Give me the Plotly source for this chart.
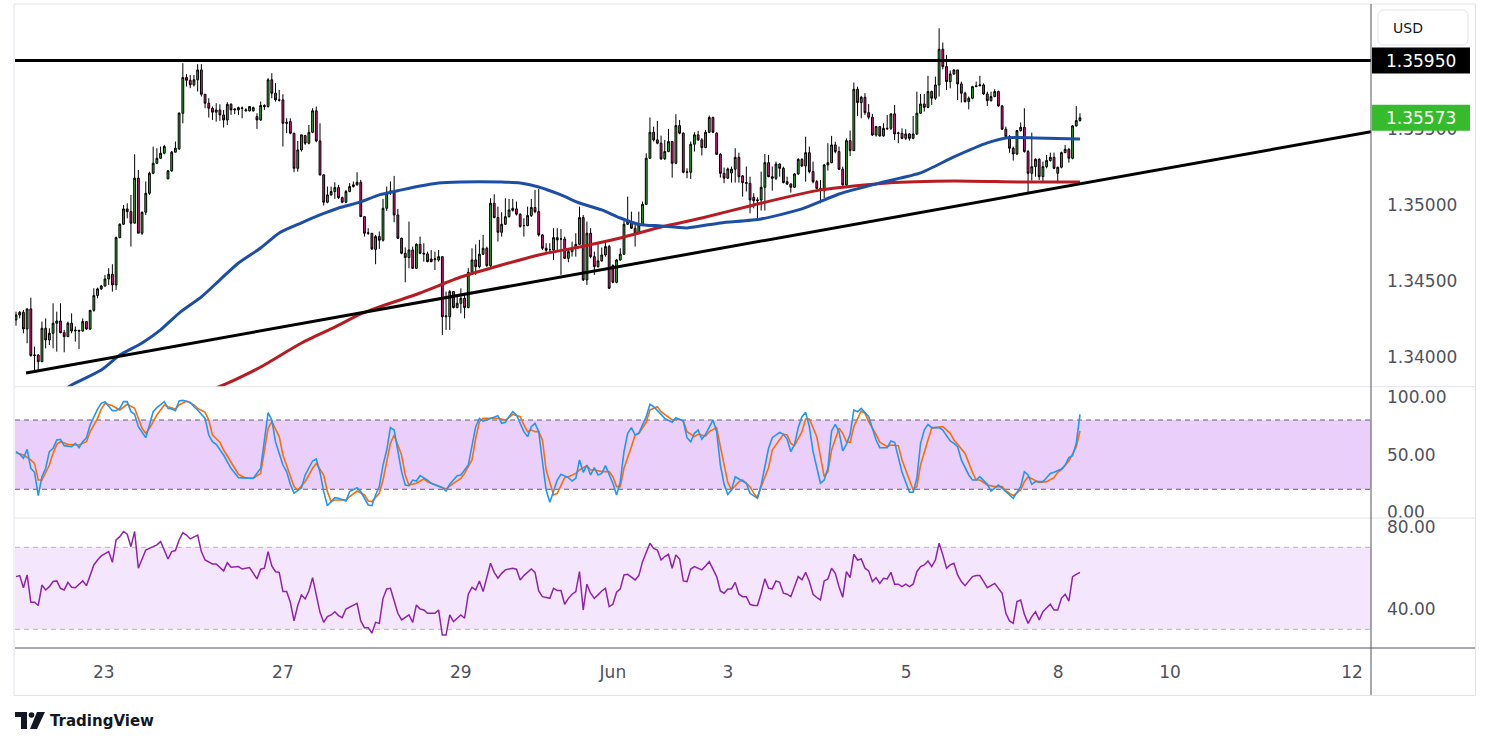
import plotly.graph_objects as go

# ---------------- data (hourly candles) ----------------
opens = [
1.34244, 1.34276, 1.34294, 1.34184, 1.34316, 1.34009, 1.34013, 1.33969, 1.34189, 1.34112,
1.34156, 1.34222, 1.34237, 1.34160, 1.34134, 1.34222, 1.34171, 1.34176, 1.34171, 1.34233,
1.34184, 1.34307, 1.34404, 1.34448, 1.34467, 1.34513, 1.34544, 1.34474, 1.34785, 1.34873,
1.34974, 1.34956, 1.34880, 1.35176, 1.34814, 1.34952, 1.35077, 1.35208, 1.35274, 1.35307,
1.35340, 1.35171, 1.35224, 1.35347, 1.35369, 1.35603, 1.35838, 1.35820, 1.35790, 1.35823,
1.35888, 1.35728, 1.35669, 1.35636, 1.35610, 1.35625, 1.35592, 1.35559, 1.35662, 1.35625,
1.35625, 1.35638, 1.35619, 1.35619, 1.35619, 1.35581, 1.35559, 1.35654, 1.35647, 1.35823,
1.35735, 1.35691, 1.35691, 1.35544, 1.35548, 1.35472, 1.35241, 1.35362, 1.35456, 1.35406,
1.35478, 1.35619, 1.35421, 1.35198, 1.35018, 1.35066, 1.35088, 1.35114, 1.35048, 1.35018,
1.35088, 1.35121, 1.35132, 1.35149, 1.34923, 1.34814, 1.34814, 1.34708, 1.34792, 1.34768,
1.34978, 1.35083, 1.35092, 1.34934, 1.34781, 1.34682, 1.34654, 1.34704, 1.34583, 1.34741,
1.34682, 1.34678, 1.34645, 1.34640, 1.34638, 1.34660, 1.34265, 1.34265, 1.34430, 1.34325,
1.34353, 1.34386, 1.34325, 1.34557, 1.34638, 1.34594, 1.34676, 1.34715, 1.34601, 1.35011,
1.34917, 1.34820, 1.34873, 1.34923, 1.34978, 1.34974, 1.34939, 1.34864, 1.34864, 1.34930,
1.34983, 1.34956, 1.34803, 1.34715, 1.34706, 1.34704, 1.34785, 1.34776, 1.34776, 1.34649,
1.34693, 1.34715, 1.34741, 1.34917, 1.34507, 1.34814, 1.34660, 1.34594, 1.34632, 1.34671,
1.34726, 1.34601, 1.34491, 1.34638, 1.34676, 1.34873, 1.34891, 1.34847, 1.34814, 1.34869,
1.35004, 1.35307, 1.35478, 1.35428, 1.35406, 1.35303, 1.35351, 1.35417, 1.35274, 1.35522,
1.35472, 1.35215, 1.35215, 1.35399, 1.35461, 1.35428, 1.35377, 1.35478, 1.35575, 1.35472,
1.35333, 1.35208, 1.35176, 1.35210, 1.35235, 1.35313, 1.35191, 1.35147, 1.35142, 1.35050,
1.35028, 1.35033, 1.35116, 1.35278, 1.35186, 1.35175, 1.35269, 1.35241, 1.35153, 1.35138,
1.35116, 1.35204, 1.35300, 1.35256, 1.35344, 1.35219, 1.35153, 1.35109, 1.35094, 1.35263,
1.35278, 1.35395, 1.35351, 1.35235, 1.35132, 1.35423, 1.35357, 1.35761, 1.35673, 1.35708,
1.35607, 1.35577, 1.35460, 1.35515, 1.35454, 1.35504, 1.35504, 1.35599, 1.35471, 1.35471,
1.35438, 1.35467, 1.35438, 1.35467, 1.35603, 1.35664, 1.35642, 1.35746, 1.35702, 1.35789,
1.36024, 1.35910, 1.35811, 1.35862, 1.35888, 1.35796, 1.35735, 1.35680, 1.35702, 1.35778,
1.35783, 1.35789, 1.35730, 1.35686, 1.35713, 1.35746, 1.35651, 1.35498, 1.35450, 1.35373,
1.35335, 1.35489, 1.35511, 1.35351, 1.35208, 1.35252, 1.35300, 1.35186, 1.35252, 1.35292,
1.35313, 1.35208, 1.35248, 1.35344, 1.35366, 1.35307, 1.35520, 1.35555]

highs = [
1.34298, 1.34303, 1.34309, 1.34320, 1.34390, 1.34068, 1.34018, 1.34233, 1.34254, 1.34189,
1.34353, 1.34298, 1.34353, 1.34178, 1.34233, 1.34287, 1.34200, 1.34178, 1.34254, 1.34237,
1.34309, 1.34452, 1.34456, 1.34474, 1.34540, 1.34584, 1.34610, 1.34792, 1.34879, 1.35000,
1.35011, 1.35066, 1.35333, 1.35230, 1.34956, 1.35154, 1.35219, 1.35384, 1.35373, 1.35384,
1.35395, 1.35230, 1.35355, 1.35417, 1.35610, 1.35932, 1.35860, 1.35855, 1.35855, 1.35926,
1.35926, 1.35728, 1.35702, 1.35647, 1.35669, 1.35662, 1.35625, 1.35676, 1.35669, 1.35636,
1.35647, 1.35647, 1.35636, 1.35647, 1.35647, 1.35603, 1.35680, 1.35662, 1.35834, 1.35866,
1.35801, 1.35757, 1.35728, 1.35570, 1.35570, 1.35472, 1.35421, 1.35461, 1.35461, 1.35526,
1.35636, 1.35647, 1.35537, 1.35202, 1.35121, 1.35121, 1.35149, 1.35132, 1.35055, 1.35099,
1.35143, 1.35154, 1.35215, 1.35165, 1.34923, 1.34847, 1.34814, 1.34803, 1.34825, 1.35040,
1.35121, 1.35154, 1.35191, 1.34974, 1.34785, 1.34720, 1.34891, 1.34726, 1.34748, 1.34792,
1.34748, 1.34693, 1.34704, 1.34693, 1.34704, 1.34660, 1.34430, 1.34441, 1.34434, 1.34408,
1.34452, 1.34408, 1.34584, 1.34715, 1.34741, 1.34770, 1.34803, 1.34726, 1.35044, 1.35070,
1.34989, 1.34952, 1.35044, 1.35040, 1.35040, 1.35022, 1.34945, 1.34912, 1.34989, 1.35040,
1.35099, 1.35105, 1.34807, 1.34748, 1.34748, 1.34847, 1.34847, 1.34842, 1.34792, 1.34715,
1.34759, 1.34814, 1.34989, 1.34934, 1.34891, 1.34847, 1.34693, 1.34755, 1.34720, 1.34755,
1.34737, 1.34610, 1.34645, 1.34715, 1.34899, 1.35055, 1.34956, 1.34869, 1.34956, 1.35022,
1.35340, 1.35575, 1.35515, 1.35553, 1.35456, 1.35428, 1.35500, 1.35421, 1.35597, 1.35559,
1.35478, 1.35241, 1.35417, 1.35478, 1.35487, 1.35439, 1.35494, 1.35588, 1.35581, 1.35478,
1.35340, 1.35246, 1.35246, 1.35252, 1.35373, 1.35344, 1.35197, 1.35253, 1.35186, 1.35077,
1.35050, 1.35219, 1.35335, 1.35329, 1.35253, 1.35285, 1.35274, 1.35252, 1.35186, 1.35142,
1.35208, 1.35307, 1.35307, 1.35449, 1.35384, 1.35285, 1.35164, 1.35164, 1.35270, 1.35406,
1.35454, 1.35416, 1.35384, 1.35252, 1.35438, 1.35489, 1.35805, 1.35778, 1.35717, 1.35735,
1.35664, 1.35599, 1.35520, 1.35520, 1.35537, 1.35592, 1.35599, 1.35658, 1.35482, 1.35504,
1.35498, 1.35471, 1.35585, 1.35745, 1.35730, 1.35730, 1.35849, 1.35752, 1.35844, 1.36162,
1.36068, 1.35987, 1.35884, 1.35892, 1.35888, 1.35811, 1.35745, 1.35713, 1.35783, 1.35811,
1.35849, 1.35800, 1.35745, 1.35745, 1.35761, 1.35752, 1.35658, 1.35515, 1.35460, 1.35384,
1.35493, 1.35542, 1.35636, 1.35362, 1.35476, 1.35307, 1.35307, 1.35285, 1.35329, 1.35344,
1.35344, 1.35252, 1.35351, 1.35395, 1.35373, 1.35526, 1.35651, 1.35603]

lows = [
1.34206, 1.34254, 1.34156, 1.34090, 1.34002, 1.33908, 1.33908, 1.33969, 1.34057, 1.34079,
1.34057, 1.34035, 1.34156, 1.34031, 1.34134, 1.34156, 1.34101, 1.34053, 1.34167, 1.34178,
1.34178, 1.34298, 1.34386, 1.34441, 1.34463, 1.34474, 1.34430, 1.34441, 1.34781, 1.34869,
1.34912, 1.34726, 1.34880, 1.34814, 1.34803, 1.34934, 1.35066, 1.35202, 1.35268, 1.35303,
1.35333, 1.35171, 1.35219, 1.35347, 1.35362, 1.35537, 1.35779, 1.35768, 1.35779, 1.35746,
1.35713, 1.35636, 1.35575, 1.35559, 1.35548, 1.35553, 1.35509, 1.35526, 1.35592, 1.35597,
1.35592, 1.35570, 1.35614, 1.35614, 1.35614, 1.35500, 1.35553, 1.35625, 1.35640, 1.35702,
1.35680, 1.35680, 1.35384, 1.35472, 1.35465, 1.35215, 1.35219, 1.35351, 1.35395, 1.35399,
1.35472, 1.35412, 1.35193, 1.34996, 1.35011, 1.35062, 1.35040, 1.35040, 1.35011, 1.35011,
1.35084, 1.35114, 1.35127, 1.34923, 1.34792, 1.34803, 1.34704, 1.34610, 1.34711, 1.34759,
1.34961, 1.35066, 1.34886, 1.34776, 1.34676, 1.34491, 1.34583, 1.34579, 1.34579, 1.34676,
1.34627, 1.34623, 1.34623, 1.34572, 1.34627, 1.34145, 1.34178, 1.34178, 1.34320, 1.34320,
1.34287, 1.34254, 1.34320, 1.34551, 1.34540, 1.34583, 1.34671, 1.34592, 1.34592, 1.34912,
1.34759, 1.34792, 1.34869, 1.34917, 1.34956, 1.34930, 1.34851, 1.34792, 1.34860, 1.34921,
1.34945, 1.34792, 1.34704, 1.34676, 1.34689, 1.34638, 1.34693, 1.34540, 1.34645, 1.34623,
1.34660, 1.34660, 1.34737, 1.34500, 1.34474, 1.34649, 1.34540, 1.34588, 1.34627, 1.34660,
1.34447, 1.34485, 1.34485, 1.34632, 1.34671, 1.34869, 1.34842, 1.34726, 1.34807, 1.34864,
1.35000, 1.35303, 1.35417, 1.35399, 1.35296, 1.35296, 1.35347, 1.35180, 1.35268, 1.35465,
1.35208, 1.35176, 1.35171, 1.35351, 1.35421, 1.35325, 1.35373, 1.35472, 1.35472, 1.35329,
1.35180, 1.35143, 1.35171, 1.35147, 1.35147, 1.35147, 1.35055, 1.35088, 1.34945, 1.34978,
1.34912, 1.34963, 1.34963, 1.35182, 1.35094, 1.35164, 1.35186, 1.35142, 1.35131, 1.35081,
1.35114, 1.35197, 1.35252, 1.35153, 1.35208, 1.35142, 1.35103, 1.35011, 1.35044, 1.35226,
1.35274, 1.35340, 1.35230, 1.35125, 1.35110, 1.35321, 1.35357, 1.35585, 1.35570, 1.35592,
1.35563, 1.35454, 1.35449, 1.35449, 1.35449, 1.35493, 1.35493, 1.35427, 1.35406, 1.35432,
1.35427, 1.35423, 1.35432, 1.35460, 1.35599, 1.35614, 1.35636, 1.35658, 1.35691, 1.35713,
1.35892, 1.35756, 1.35767, 1.35855, 1.35691, 1.35673, 1.35673, 1.35629, 1.35695, 1.35778,
1.35783, 1.35724, 1.35651, 1.35680, 1.35708, 1.35647, 1.35493, 1.35445, 1.35344, 1.35292,
1.35329, 1.35482, 1.35344, 1.35081, 1.35160, 1.35186, 1.35164, 1.35153, 1.35241, 1.35285,
1.35235, 1.35142, 1.35241, 1.35340, 1.35278, 1.35300, 1.35515, 1.35548]

closes = [
1.34276, 1.34294, 1.34184, 1.34316, 1.34009, 1.34013, 1.33969, 1.34189, 1.34112, 1.34156,
1.34222, 1.34237, 1.34160, 1.34134, 1.34222, 1.34171, 1.34176, 1.34171, 1.34233, 1.34184,
1.34307, 1.34404, 1.34448, 1.34467, 1.34513, 1.34544, 1.34474, 1.34785, 1.34873, 1.34974,
1.34956, 1.34880, 1.35176, 1.34814, 1.34952, 1.35077, 1.35208, 1.35274, 1.35307, 1.35340,
1.35384, 1.35224, 1.35347, 1.35373, 1.35603, 1.35838, 1.35820, 1.35790, 1.35823, 1.35888,
1.35728, 1.35669, 1.35636, 1.35610, 1.35625, 1.35592, 1.35559, 1.35662, 1.35625, 1.35630,
1.35640, 1.35636, 1.35625, 1.35647, 1.35640, 1.35559, 1.35654, 1.35647, 1.35823, 1.35735,
1.35691, 1.35689, 1.35537, 1.35537, 1.35472, 1.35241, 1.35362, 1.35461, 1.35406, 1.35478,
1.35619, 1.35421, 1.35198, 1.35018, 1.35066, 1.35088, 1.35114, 1.35048, 1.35018, 1.35088,
1.35121, 1.35132, 1.35149, 1.34923, 1.34814, 1.34816, 1.34711, 1.34792, 1.34768, 1.34978,
1.35083, 1.35092, 1.34934, 1.34781, 1.34682, 1.34654, 1.34704, 1.34583, 1.34741, 1.34682,
1.34678, 1.34627, 1.34627, 1.34645, 1.34660, 1.34265, 1.34270, 1.34430, 1.34325, 1.34353,
1.34386, 1.34325, 1.34557, 1.34638, 1.34594, 1.34676, 1.34715, 1.34601, 1.35011, 1.34917,
1.34820, 1.34873, 1.34923, 1.34967, 1.34965, 1.34939, 1.34858, 1.34864, 1.34930, 1.34983,
1.34956, 1.34803, 1.34715, 1.34702, 1.34706, 1.34785, 1.34770, 1.34776, 1.34649, 1.34693,
1.34715, 1.34741, 1.34917, 1.34507, 1.34814, 1.34660, 1.34594, 1.34632, 1.34671, 1.34726,
1.34452, 1.34491, 1.34638, 1.34676, 1.34873, 1.34891, 1.34847, 1.34814, 1.34869, 1.35004,
1.35307, 1.35478, 1.35428, 1.35406, 1.35303, 1.35351, 1.35417, 1.35274, 1.35522, 1.35472,
1.35215, 1.35217, 1.35399, 1.35461, 1.35428, 1.35377, 1.35478, 1.35575, 1.35478, 1.35333,
1.35208, 1.35176, 1.35237, 1.35235, 1.35313, 1.35186, 1.35147, 1.35142, 1.35033, 1.35028,
1.35033, 1.35116, 1.35278, 1.35186, 1.35175, 1.35269, 1.35241, 1.35147, 1.35138, 1.35116,
1.35204, 1.35300, 1.35256, 1.35344, 1.35219, 1.35153, 1.35109, 1.35094, 1.35263, 1.35278,
1.35395, 1.35351, 1.35235, 1.35132, 1.35423, 1.35357, 1.35761, 1.35673, 1.35708, 1.35607,
1.35577, 1.35460, 1.35515, 1.35454, 1.35504, 1.35502, 1.35599, 1.35467, 1.35473, 1.35438,
1.35467, 1.35438, 1.35467, 1.35603, 1.35664, 1.35642, 1.35746, 1.35702, 1.35789, 1.36024,
1.35910, 1.35811, 1.35862, 1.35888, 1.35796, 1.35735, 1.35680, 1.35702, 1.35778, 1.35783,
1.35789, 1.35730, 1.35686, 1.35713, 1.35746, 1.35651, 1.35498, 1.35450, 1.35373, 1.35335,
1.35489, 1.35511, 1.35351, 1.35208, 1.35252, 1.35300, 1.35186, 1.35252, 1.35292, 1.35313,
1.35241, 1.35248, 1.35344, 1.35366, 1.35307, 1.35520, 1.35555, 1.35573]

# moving averages (bar index, price)
ema_fast = [(13, 1.33784), (15, 1.33816), (23, 1.33914), (28, 1.34013), (34, 1.34092), (39, 1.34178),
            (44, 1.34289), (50, 1.34395), (55, 1.34507), (60, 1.34618), (66, 1.34717), (71, 1.34816),
            (77, 1.34882), (82, 1.34934), (87, 1.34980), (93, 1.35020), (98, 1.35066), (104, 1.35099),
            (109, 1.35125), (114, 1.35145), (120, 1.35151), (125, 1.35152), (131, 1.35151), (136, 1.35145),
            (141, 1.35118), (147, 1.35066), (152, 1.35013), (158, 1.34967), (163, 1.34914), (168, 1.34872),
            (174, 1.34862), (181, 1.34849), (190, 1.34882), (201, 1.34908), (212, 1.34974), (222, 1.35072),
            (233, 1.35145), (244, 1.35211), (253, 1.35316), (262, 1.35408), (267, 1.35441), (275, 1.35441),
            (287, 1.35434)]
ema_slow = [(53, 1.33786), (56, 1.33816), (66, 1.33934), (77, 1.34092), (86, 1.34197), (93, 1.34283),
            (98, 1.34329), (109, 1.34421), (120, 1.34526), (131, 1.34605), (141, 1.34671), (152, 1.34724),
            (163, 1.34783), (174, 1.34855), (185, 1.34914), (199, 1.35000), (217, 1.35099), (235, 1.35145),
            (253, 1.35158), (271, 1.35151), (287, 1.35151)]

# Stoch RSI %K / %D and RSI (bar index, value)
stoch_k = [(0,52.6),(1,50.3),(2,46.8),(3,54.6),(4,38.2),(5,34.7),(6,14.5),(7,30.9),(8,38.2),(9,52.6),(10,55.5),(11,62.7),(12,63.3),(13,57.8),(15,56.9),(16,59.8),(17,56.0),(18,61.2),(19,64.7),(20,75.7),(22,89.5),(23,94.4),(24,95.9),(26,88.1),(27,88.1),(28,90.1),(29,95.9),(30,95.9),(31,87.2),(32,84.9),(33,74.2),(34,69.0),(35,64.7),(36,75.7),(37,87.2),(38,90.7),(40,95.9),(41,90.1),(42,89.5),(43,88.1),(44,96.4),(45,97.0),(47,95.3),(48,91.5),(49,88.7),(51,81.4),(52,67.0),(53,61.2),(54,58.9),(56,49.7),(58,38.2),(60,30.1),(62,29.5),(64,29.5),(66,38.2),(67,64.1),(68,86.3),(69,80.0),(70,61.2),(72,41.0),(73,35.3),(74,24.3),(75,16.5),(77,21.4),(78,32.4),(80,44.5),(81,46.2),(82,34.7),(83,18.0),(84,5.8),(86,12.7),(87,12.2),(89,9.9),(90,18.0),(92,21.4),(93,18.0),(94,12.2),(95,6.4),(96,5.8),(97,15.1),(98,22.3),(99,41.0),(100,54.0),(101,73.4),(102,71.3),(103,52.6),(104,35.3),(105,23.7),(106,23.1),(107,28.0),(108,27.2),(109,31.8),(111,28.0),(112,25.2),(113,23.7),(115,21.4),(116,18.5),(117,24.3),(119,31.8),(120,32.4),(122,41.0),(123,56.9),(124,74.2),(125,81.4),(126,79.1),(128,81.4),(130,83.7),(131,77.1),(132,78.0),(133,82.9),(134,87.2),(135,84.3),(137,69.9),(138,65.6),(139,74.2),(140,77.1),(141,69.9),(142,43.9),(143,19.4),(144,8.7),(145,19.4),(146,28.0),(147,33.0),(148,31.8),(149,30.1),(150,27.2),(151,29.5),(152,45.4),(153,34.7),(154,41.0),(155,32.4),(156,38.7),(157,32.4),(158,33.8),(159,40.5),(161,25.2),(162,15.1),(163,26.6),(164,52.6),(165,68.5),(166,73.4),(167,67.0),(168,68.5),(170,82.9),(171,93.6),(172,91.5),(174,84.9),(175,81.4),(177,78.0),(178,82.0),(180,79.1),(181,64.7),(182,61.2),(183,68.5),(184,71.3),(185,63.5),(186,67.6),(188,80.0),(189,69.9),(190,41.0),(191,24.3),(192,15.6),(193,19.4),(194,30.9),(195,28.9),(197,25.2),(198,16.5),(200,12.2),(201,23.7),(203,55.5),(204,64.7),(206,69.3),(207,67.6),(208,63.5),(209,52.6),(210,58.9),(211,73.4),(212,82.9),(213,86.6),(214,74.2),(215,52.6),(217,25.2),(218,28.0),(219,38.2),(220,70.5),(221,76.2),(222,69.9),(223,53.2),(224,58.9),(225,67.6),(226,88.7),(227,87.2),(228,90.1),(230,82.9),(231,72.8),(232,62.7),(233,56.0),(235,56.0),(236,61.8),(237,60.7),(239,34.7),(240,26.6),(241,17.4),(242,17.4),(243,29.5),(244,59.8),(245,71.3),(246,76.2),(247,73.4),(249,73.4),(250,71.3),(252,61.8),(253,59.8),(254,56.9),(255,45.4),(257,32.4),(258,28.0),(259,28.0),(260,30.9),(262,24.3),(263,18.5),(265,23.7),(266,20.8),(268,15.1),(269,12.2),(271,22.3),(272,35.3),(273,32.4),(274,24.3),(275,26.6),(277,26.6),(279,33.8),(280,34.7),(282,37.6),(283,41.0),(284,47.4),(285,49.0),(286,59.8),(287,84.9)]

stoch_d = [(0,51.7),(2,49.7),(4,45.4),(5,42.5),(6,28.0),(7,28.0),(9,41.0),(10,51.1),(11,58.9),(12,61.2),(14,58.9),(16,58.4),(17,58.4),(19,61.2),(20,69.9),(22,81.4),(23,89.5),(24,94.4),(26,92.4),(28,88.7),(29,91.5),(30,93.6),(32,90.1),(33,81.4),(34,72.8),(35,68.5),(36,72.8),(38,84.3),(40,93.0),(41,91.5),(43,89.5),(44,93.0),(46,96.4),(48,93.0),(49,90.1),(51,86.6),(52,80.0),(53,67.0),(55,60.7),(56,54.0),(58,43.9),(60,33.0),(62,29.5),(64,29.5),(66,33.8),(67,52.6),(68,72.8),(69,78.6),(71,65.6),(72,49.7),(74,32.4),(75,22.3),(76,19.4),(78,26.6),(80,38.2),(81,42.5),(83,32.4),(84,18.0),(85,9.3),(86,10.7),(89,10.7),(90,13.6),(92,18.5),(94,15.1),(95,9.9),(96,9.3),(98,16.5),(99,28.0),(100,43.9),(101,59.8),(102,67.0),(104,49.7),(105,32.4),(106,23.7),(108,25.2),(110,28.9),(111,26.6),(113,24.3),(115,21.4),(116,20.3),(118,25.2),(120,29.5),(121,33.8),(123,45.4),(124,64.1),(125,78.6),(126,81.4),(128,81.4),(130,81.4),(132,80.0),(133,82.0),(134,84.9),(136,82.9),(137,75.7),(138,69.9),(139,71.3),(140,69.9),(141,69.9),(142,62.7),(143,36.7),(145,15.1),(146,16.5),(147,23.7),(148,30.1),(149,30.9),(151,33.8),(152,36.7),(154,40.5),(155,36.7),(156,36.7),(158,35.3),(160,35.3),(161,30.9),(162,22.3),(163,22.3),(164,38.2),(166,56.9),(167,67.0),(168,68.5),(169,72.8),(170,78.0),(171,88.7),(173,91.5),(174,87.2),(176,82.9),(177,80.0),(179,80.6),(180,79.1),(181,69.9),(183,65.6),(184,67.6),(186,66.1),(187,69.9),(189,73.4),(190,56.9),(191,41.0),(192,26.0),(193,19.4),(195,26.6),(196,28.0),(198,22.3),(199,16.5),(200,12.8),(201,22.3),(203,38.7),(204,54.0),(206,63.5),(207,67.6),(208,67.0),(209,59.8),(210,57.8),(212,69.9),(213,80.9),(214,80.9),(216,65.6),(217,46.8),(218,30.9),(219,35.3),(220,54.0),(222,72.8),(223,68.5),(224,61.2),(225,60.7),(226,74.2),(228,87.8),(229,85.8),(230,78.6),(232,67.6),(233,60.7),(235,56.9),(236,58.4),(238,57.8),(239,45.4),(241,28.0),(242,19.4),(243,22.3),(244,41.0),(246,62.7),(247,72.8),(248,73.4),(250,74.2),(252,68.5),(253,62.7),(254,58.9),(256,51.1),(258,34.7),(259,28.0),(260,28.0),(262,23.7),(264,22.3),(266,22.3),(267,18.5),(269,14.5),(271,19.4),(272,26.6),(273,30.9),(275,28.0),(276,26.0),(278,26.6),(280,30.1),(281,34.7),(282,36.7),(284,44.5),(286,56.9),(287,70.5)]

rsi = [(0,55.7),(1,56.2),(2,50.3),(3,56.5),(4,43.2),(5,43.2),(6,41.6),(7,51.6),(8,49.2),(9,50.8),(10,53.3),(11,53.6),(12,50.0),(13,49.2),(14,52.9),(15,50.5),(16,50.3),(18,53.6),(19,51.3),(21,61.4),(22,63.8),(23,65.8),(25,67.9),(26,62.7),(27,73.6),(28,75.2),(29,77.7),(30,76.4),(31,70.3),(32,77.7),(33,59.8),(34,64.6),(35,68.7),(37,70.3),(38,71.2),(39,72.8),(41,64.3),(42,67.9),(43,68.4),(44,73.6),(45,77.2),(46,76.0),(47,74.1),(49,76.0),(50,67.9),(51,63.8),(53,61.9),(54,61.9),(56,58.5),(57,62.5),(58,60.3),(60,60.6),(61,59.4),(63,60.1),(65,54.6),(66,59.3),(67,59.8),(68,67.9),(69,60.9),(70,58.1),(71,57.8),(72,48.4),(73,48.4),(74,43.2),(75,34.1),(76,41.6),(77,46.8),(78,44.8),(79,48.7),(80,55.2),(81,46.8),(82,38.3),(83,33.4),(84,36.2),(85,37.0),(86,38.6),(87,36.7),(88,35.7),(89,39.9),(91,41.9),(92,42.7),(93,34.1),(94,30.8),(95,30.8),(96,28.1),(97,33.4),(98,32.9),(99,45.1),(100,49.7),(101,50.0),(102,44.3),(103,37.8),(104,34.6),(106,37.0),(107,33.4),(108,41.9),(109,39.9),(110,39.4),(111,37.8),(113,37.8),(114,39.4),(115,27.2),(116,27.2),(117,37.0),(118,33.8),(119,35.4),(120,37.0),(121,35.4),(122,47.1),(123,50.5),(124,49.2),(125,53.6),(126,48.4),(128,62.2),(129,57.8),(130,54.9),(131,57.3),(132,59.0),(134,59.8),(135,59.3),(136,54.1),(137,56.2),(139,59.4),(140,57.8),(141,48.7),(142,45.9),(144,45.1),(145,50.0),(146,48.9),(147,48.9),(148,42.2),(149,45.1),(150,47.1),(151,48.4),(152,58.1),(153,39.4),(154,52.0),(155,47.6),(156,45.1),(157,46.8),(158,48.7),(159,50.0),(160,41.1),(161,42.2),(162,48.1),(163,49.7),(164,56.5),(165,56.8),(167,54.1),(168,56.2),(169,63.0),(171,72.0),(172,69.5),(173,68.7),(174,63.8),(175,65.5),(176,66.6),(177,59.8),(178,66.3),(179,64.3),(180,53.6),(181,53.3),(182,59.4),(183,60.6),(185,59.0),(186,60.9),(187,63.0),(189,55.7),(190,48.7),(191,47.6),(192,49.7),(193,49.7),(194,52.9),(195,47.1),(196,45.9),(197,45.9),(198,42.2),(199,41.6),(200,41.6),(201,47.6),(202,54.6),(203,50.0),(204,49.7),(205,53.6),(206,52.9),(207,47.6),(208,47.1),(209,45.9),(210,50.8),(211,55.7),(212,54.1),(213,57.8),(214,53.3),(215,47.1),(216,45.5),(217,44.3),(218,53.6),(219,54.6),(220,59.8),(221,57.3),(222,50.8),(223,45.6),(224,58.1),(225,55.2),(226,66.6),(227,63.8),(228,64.3),(229,59.8),(230,58.5),(231,53.3),(232,55.2),(233,52.4),(234,54.9),(235,54.6),(236,57.8),(237,52.0),(238,52.0),(239,50.8),(240,52.0),(241,50.8),(242,52.0),(243,58.1),(244,60.6),(245,61.4),(246,63.3),(247,60.6),(248,63.8),(249,72.0),(250,66.3),(251,59.8),(252,61.4),(253,62.2),(254,56.5),(255,53.3),(256,51.3),(258,55.7),(259,56.2),(260,56.2),(261,53.3),(262,50.3),(264,52.4),(266,47.6),(267,37.8),(268,34.1),(269,32.9),(270,43.5),(271,44.3),(272,37.3),(273,32.9),(274,36.2),(275,38.6),(276,34.6),(277,38.6),(278,40.6),(279,42.2),(280,39.4),(281,39.4),(282,45.1),(283,47.1),(284,43.8),(285,55.7),(286,56.8),(287,57.8)]

# drawings and axis labels
resistance = 1.35950
trend_start = (2.7, 1.33895)
trend_end = (365.5, 1.35482)
tick_pos = [23.7, 72.0, 120.0, 161.0, 192.0, 240.1, 281.1, 311.3, 360.4]
tick_text = ['23', '27', '29', 'Jun', '3', '5', '8', '10', '12']
price_ticks = [1.340, 1.345, 1.350, 1.355]
stoch_ticks = [0, 50, 100]
rsi_ticks = [40, 80]
stoch_band = (20, 80)
rsi_band = (30, 70)
currency = 'USD'

# ---------------- styling / geometry ----------------
W, H = 1491, 748
ML, MR, MT, MB = 15, 120, 5, 100
PW, PH = W - ML - MR, H - MT - MB
def xp(px): return (px - ML) / PW
def yp(py): return (H - MB - py) / PH

GREEN = '#32ab32'
PINK = '#e6177b'
LABEL_GREEN = '#35bb2c'
BLUE_MA = '#1c4ea6'
RED_MA = '#b71c22'
K_COL = '#2196f3'
D_COL = '#ff6d00'
RSI_COL = '#8e24aa'
SEP = '#e0e3eb'
AXL = '#50535e'
TXT = '#4f525c'
FONT = 'DejaVu Sans'

XR = [-0.27, 365.5]
DOM_MAIN = [0.4063, 1.0]
DOM_STOCH = [0.2022, 0.4063]
DOM_RSI = [0.0, 0.2022]

x = list(range(len(closes)))

fig = go.Figure()
fig.add_trace(go.Candlestick(
    x=x, open=opens, high=highs, low=lows, close=closes,
    increasing=dict(line=dict(color='black', width=1), fillcolor=GREEN),
    decreasing=dict(line=dict(color='black', width=1), fillcolor=PINK),
    whiskerwidth=0, hoverinfo='skip', xaxis='x', yaxis='y'))
fig.add_trace(go.Scatter(x=[p[0] for p in ema_slow], y=[p[1] for p in ema_slow], mode='lines',
                         line=dict(color=RED_MA, width=3, shape='spline', smoothing=0.6),
                         hoverinfo='skip', xaxis='x', yaxis='y'))
fig.add_trace(go.Scatter(x=[p[0] for p in ema_fast], y=[p[1] for p in ema_fast], mode='lines',
                         line=dict(color=BLUE_MA, width=3, shape='spline', smoothing=0.6),
                         hoverinfo='skip', xaxis='x', yaxis='y'))
fig.add_trace(go.Scatter(x=[p[0] for p in stoch_d], y=[p[1] for p in stoch_d], mode='lines',
                         line=dict(color=D_COL, width=1.6), hoverinfo='skip', xaxis='x2', yaxis='y2'))
fig.add_trace(go.Scatter(x=[p[0] for p in stoch_k], y=[p[1] for p in stoch_k], mode='lines',
                         line=dict(color=K_COL, width=1.6), hoverinfo='skip', xaxis='x2', yaxis='y2'))
fig.add_trace(go.Scatter(x=[p[0] for p in rsi], y=[p[1] for p in rsi], mode='lines',
                         line=dict(color=RSI_COL, width=1.5), hoverinfo='skip', xaxis='x3', yaxis='y3'))

axis_font = dict(family=FONT, size=17, color=TXT)
common_x = dict(range=XR, showgrid=False, zeroline=False, showline=False, fixedrange=True)
common_y = dict(side='right', showgrid=False, zeroline=False, showline=False, ticks='',
                tickfont=axis_font, ticklabelstandoff=15, tickmode='array', fixedrange=True)

fig.update_layout(
    width=W, height=H, margin=dict(l=ML, r=MR, t=MT, b=MB, pad=0),
    paper_bgcolor='white', plot_bgcolor='white', showlegend=False,
    font=dict(family=FONT),
    xaxis=dict(domain=[0, 1], anchor='y', showticklabels=False, rangeslider=dict(visible=False), **common_x),
    xaxis2=dict(domain=[0, 1], anchor='y2', matches='x', showticklabels=False, **common_x),
    xaxis3=dict(domain=[0, 1], anchor='y3', matches='x', tickmode='array', tickvals=tick_pos,
                ticktext=tick_text, ticks='', tickfont=axis_font, ticklabelstandoff=12, **common_x),
    yaxis=dict(domain=DOM_MAIN, anchor='x', range=[1.338043, 1.363150], tickvals=price_ticks,
               ticktext=[f'{v:.5f}' for v in price_ticks], **common_y),
    yaxis2=dict(domain=DOM_STOCH, anchor='x2', range=[-4.85, 108.8], tickvals=stoch_ticks,
                ticktext=[f'{v:.2f}' for v in stoch_ticks], **common_y),
    yaxis3=dict(domain=DOM_RSI, anchor='x3', range=[20.88, 84.3], tickvals=rsi_ticks,
                ticktext=[f'{v:.2f}' for v in rsi_ticks], **common_y),
)

def rounded_rect(px0, py0, px1, py1, r):
    x0, x1 = xp(px0), xp(px1)
    y0, y1 = yp(py1), yp(py0)
    rx, ry = r / PW, r / PH
    return (f'M {x0+rx},{y0} L {x1-rx},{y0} Q {x1},{y0} {x1},{y0+ry} L {x1},{y1-ry} '
            f'Q {x1},{y1} {x1-rx},{y1} L {x0+rx},{y1} Q {x0},{y1} {x0},{y1-ry} '
            f'L {x0},{y0+ry} Q {x0},{y0} {x0+rx},{y0} Z')

shapes = [
    # indicator bands
    dict(type='rect', xref='x2 domain', yref='y2', x0=0, x1=1, y0=stoch_band[0], y1=stoch_band[1],
         fillcolor='#eacffb', line=dict(width=0), layer='below'),
    dict(type='line', xref='x2 domain', yref='y2', x0=0, x1=1, y0=stoch_band[1], y1=stoch_band[1],
         line=dict(color='#5d606b', width=1, dash='5px,4px'), layer='below'),
    dict(type='line', xref='x2 domain', yref='y2', x0=0, x1=1, y0=stoch_band[0], y1=stoch_band[0],
         line=dict(color='#5d606b', width=1, dash='5px,4px'), layer='below'),
    dict(type='rect', xref='x3 domain', yref='y3', x0=0, x1=1, y0=rsi_band[0], y1=rsi_band[1],
         fillcolor='#f4e6fd', line=dict(width=0), layer='below'),
    dict(type='line', xref='x3 domain', yref='y3', x0=0, x1=1, y0=rsi_band[1], y1=rsi_band[1],
         line=dict(color='#b2b5be', width=1, dash='5px,4px'), layer='below'),
    dict(type='line', xref='x3 domain', yref='y3', x0=0, x1=1, y0=rsi_band[0], y1=rsi_band[0],
         line=dict(color='#b2b5be', width=1, dash='5px,4px'), layer='below'),
    # drawings
    dict(type='line', xref='x domain', yref='y', x0=0, x1=1, y0=resistance, y1=resistance,
         line=dict(color='black', width=3), layer='above'),
    dict(type='line', xref='x', yref='y', x0=trend_start[0], y0=trend_start[1], x1=trend_end[0], y1=trend_end[1],
         line=dict(color='black', width=3), layer='above'),
    # frame and separators
    dict(type='line', xref='paper', yref='paper', x0=0, x1=xp(1475), y0=DOM_MAIN[0], y1=DOM_MAIN[0],
         line=dict(color=SEP, width=1), layer='above'),
    dict(type='line', xref='paper', yref='paper', x0=0, x1=xp(1475), y0=DOM_STOCH[0], y1=DOM_STOCH[0],
         line=dict(color=SEP, width=1), layer='above'),
    dict(type='rect', xref='paper', yref='paper', x0=xp(14), x1=xp(1475.5), y0=yp(695.5), y1=yp(4),
         line=dict(color=SEP, width=1), fillcolor='rgba(0,0,0,0)', layer='above'),
    dict(type='line', xref='paper', yref='paper', x0=0, x1=xp(1475), y0=0, y1=0,
         line=dict(color=AXL, width=1), layer='above'),
    dict(type='line', xref='paper', yref='paper', x0=1, x1=1, y0=yp(695), y1=yp(4),
         line=dict(color=AXL, width=1), layer='above'),
    # price labels
    dict(type='rect', xref='paper', yref='y', x0=xp(1372), x1=xp(1470), ysizemode='pixel',
         yanchor=resistance, y0=-13, y1=13, fillcolor='black', line=dict(width=0), layer='above'),
    dict(type='rect', xref='paper', yref='y', x0=xp(1372), x1=xp(1470), ysizemode='pixel',
         yanchor=closes[-1], y0=-13, y1=13, fillcolor=LABEL_GREEN, line=dict(width=0), layer='above'),
    # currency box
    dict(type='path', xref='paper', yref='paper', path=rounded_rect(1378, 10, 1468, 45, 6),
         fillcolor='white', line=dict(color=SEP, width=1), layer='above'),
    # TradingView logo
    dict(type='rect', xref='paper', yref='paper', x0=xp(15), x1=xp(27), y0=yp(717), y1=yp(712),
         fillcolor='#131722', line=dict(width=0), layer='above'),
    dict(type='rect', xref='paper', yref='paper', x0=xp(21), x1=xp(27), y0=yp(729), y1=yp(712),
         fillcolor='#131722', line=dict(width=0), layer='above'),
    dict(type='circle', xref='paper', yref='paper', x0=xp(28.7), x1=xp(34.3), y0=yp(717.8), y1=yp(712.2),
         fillcolor='#131722', line=dict(width=0), layer='above'),
    dict(type='path', xref='paper', yref='paper',
         path=f'M {xp(37)},{yp(712)} L {xp(45)},{yp(712)} L {xp(37)},{yp(729)} L {xp(30)},{yp(729)} Z',
         fillcolor='#131722', line=dict(width=0), layer='above'),
]

annotations = [
    dict(xref='paper', yref='y', x=xp(1421), y=resistance, text=f'{resistance:.5f}', showarrow=False,
         xanchor='center', yanchor='middle', font=dict(family=FONT, size=17, color='white')),
    dict(xref='paper', yref='y', x=xp(1421), y=closes[-1], text=f'{closes[-1]:.5f}', showarrow=False,
         xanchor='center', yanchor='middle', font=dict(family=FONT, size=17, color='white')),
    dict(xref='paper', yref='paper', x=xp(1391), y=yp(28), text=currency, showarrow=False,
         xanchor='left', yanchor='middle', font=dict(family=FONT, size=14, color='#131722')),
    dict(xref='paper', yref='paper', x=xp(48), y=yp(721), text='<b>TradingView</b>', showarrow=False,
         xanchor='left', yanchor='middle', font=dict(family=FONT, size=15, color='#131722')),
]

fig.update_layout(shapes=shapes, annotations=annotations)
fig.write_html('out.html', config={'displayModeBar': False},
               post_script="document.body.style.margin='0px';")
